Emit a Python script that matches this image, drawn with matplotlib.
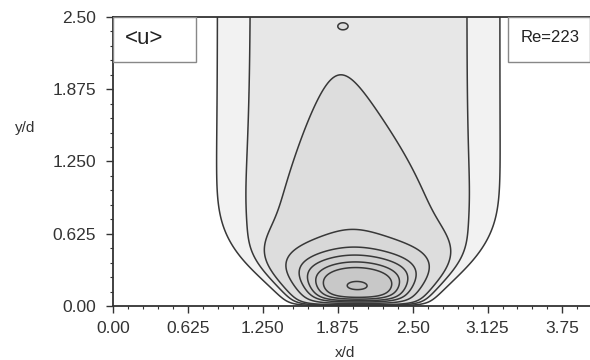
import numpy as np
import matplotlib
matplotlib.use("Agg")
import matplotlib.pyplot as plt
from matplotlib.patches import Rectangle

plt.rcParams['font.family'] = ['Liberation Sans', 'DejaVu Sans']

# contour levels of <u> and the grey shades filled between them
levels = [0.1, 0.2, 0.3, 0.53, 0.715, 0.835, 0.945, 1.03, 1.168]
shades = ['#ffffff', '#f2f2f2', '#e7e7e7', '#dddddd', '#d8d8d8',
          '#d4d4d4', '#d0d0d0', '#cccccc', '#c8c8c8', '#c4c4c4']

x_ticks = [0.0, 0.625, 1.25, 1.875, 2.5, 3.125, 3.75]
x_labels = ['0.00', '0.625', '1.250', '1.875', '2.50', '3.125', '3.75']
y_ticks = [0.0, 0.625, 1.25, 1.875, 2.5]
y_labels = ['0.00', '0.625', '1.250', '1.875', '2.50']

# mean streamwise velocity model: plateau + decaying tail + near-wall core,
# confined sideways by an envelope that narrows towards the wall
plateau_amp, plateau_xc, plateau_w, plateau_pow = 0.27, 2.05, 1.18, 4.5
tail_amp, tail_yend, tail_growth = 0.03, 2.0, 1.45
tail_xc_wall, tail_xc_slope = 2.05, 0.075
tail_sig_top, tail_sig_slope = 0.25, 0.075
core_amp, core_xc, core_yc, core_rx, core_ry, core_pow = 0.5, 2.03, 0.21, 0.85, 0.3, 3.0
env_xc, env_w0, env_lin, env_curv, env_pow = 2.05, 0.5, 0.637, 1.126, 4.0
island_amp, island_xc, island_yc, island_rx, island_ry = 0.03, 1.92, 2.42, 0.05, 0.035
wall_len = 0.035

x = np.linspace(0, 3.98, 700)
y = np.linspace(0, 2.5, 600)
X, Y = np.meshgrid(x, y)

base = plateau_amp * np.exp(-np.abs((X - plateau_xc) / plateau_w) ** plateau_pow)
amp_t = tail_amp * np.exp(tail_growth * (tail_yend - Y))
sig_t = tail_sig_top + tail_sig_slope * (tail_yend - Y)
xc_t = tail_xc_wall - tail_xc_slope * Y
tail = amp_t / np.cosh((X - xc_t) / sig_t)
core = core_amp * np.exp(-np.abs((X - core_xc) / core_rx) ** core_pow
                         - ((Y - core_yc) / core_ry) ** 2)
env_w = env_w0 + env_lin * Y + env_curv * Y ** 2
envelope = np.exp(-np.abs((X - env_xc) / env_w) ** env_pow)
island = island_amp * np.exp(-((X - island_xc) / island_rx) ** 2
                             - ((Y - island_yc) / island_ry) ** 2)
wall = 1 - np.exp(-Y / wall_len)
U = wall * envelope * (base + tail + core) + island

fig = plt.figure(figsize=(5.9, 3.6), dpi=100)
ax = fig.add_axes([0.1915, 0.15, 0.8085, 0.803])

fill_levels = [-1.0] + levels + [10.0]
ax.contourf(X, Y, U, levels=fill_levels, colors=shades)
ax.contour(X, Y, U, levels=levels, colors='#383838', linewidths=1.1)

ax.set_xlim(0, 3.98)
ax.set_ylim(0, 2.5)
ax.set_xticks(x_ticks)
ax.set_xticklabels(x_labels)
ax.set_yticks(y_ticks)
ax.set_yticklabels(y_labels)
ax.set_xticks(np.arange(0, 3.98, 0.125), minor=True)
ax.set_yticks(np.arange(0, 2.51, 0.125), minor=True)
ax.tick_params(which='major', direction='out', length=5, width=1.0,
               colors='#333333', labelsize=12.5, pad=6)
ax.tick_params(which='minor', direction='out', length=2.5, width=0.8, colors='#333333')
ax.tick_params(axis='y', which='major', pad=7)
for side in ('left', 'bottom', 'top'):
    ax.spines[side].set_color('#333333')
    ax.spines[side].set_linewidth(1.3)
ax.spines['right'].set_visible(False)

# annotation boxes
ax.add_patch(Rectangle((0.0, 0.844), 0.174, 0.156, transform=ax.transAxes,
                       facecolor='white', edgecolor='#888888', linewidth=1.0, zorder=5))
ax.text(0.024, 0.925, '<u>', transform=ax.transAxes, fontsize=16,
        color='#222222', ha='left', va='center', zorder=6)
ax.add_patch(Rectangle((0.828, 0.844), 0.172, 0.156, transform=ax.transAxes,
                       facecolor='white', edgecolor='#888888', linewidth=1.0, zorder=5))
ax.text(0.916, 0.928, 'Re=223', transform=ax.transAxes, fontsize=12,
        color='#222222', ha='center', va='center', zorder=6)

fig.text(0.042, 0.644, 'y/d', fontsize=11, color='#333333', ha='center', va='center')
fig.text(0.585, 0.02, 'x/d', fontsize=11, color='#333333', ha='center', va='center')

fig.savefig('out.png', dpi=100, facecolor='white')
